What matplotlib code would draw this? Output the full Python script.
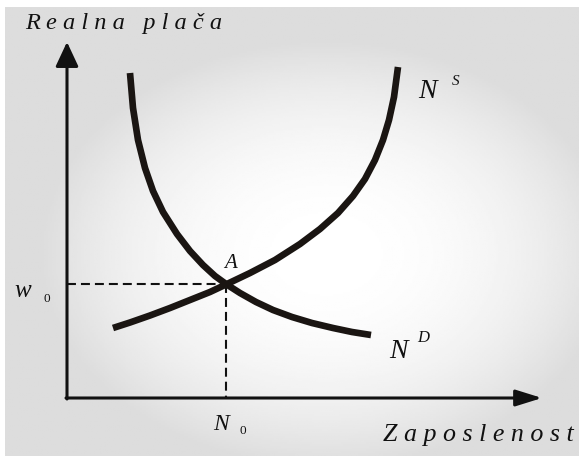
import numpy as np
import matplotlib.pyplot as plt

# curve points (pixel coords, y grows downward)
demand_x = [130, 133, 138, 145, 153, 163, 177, 190, 203, 215, 226, 240, 256, 273, 292, 312, 333, 352, 371]
demand_y = [73, 108, 140, 168, 191, 212, 234, 251, 265, 276, 284, 293, 302, 310, 317, 323, 328, 332, 335]
supply_x = [113, 130, 150, 170, 190, 210, 227, 250, 275, 300, 320, 338, 353, 365, 375, 383, 389, 394, 398]
supply_y = [328, 322.5, 315.5, 308, 300, 292, 284, 273, 260, 244, 229, 213, 196, 179, 160, 140, 120, 97, 67]
# equilibrium point A
eq_x, eq_y = 226, 284
# axes origin and arrow tips
origin = (67, 398)
x_tip, y_tip = 542, 42

fig = plt.figure(figsize=(5.82, 4.59), dpi=100)
ax = fig.add_axes([0, 0, 1, 1])
ax.set_xlim(0, 582)
ax.set_ylim(459, 0)
ax.axis('off')

# radial grey background, lighter in the middle
gx, gy = np.meshgrid(np.linspace(-1, 1, 300), np.linspace(-1, 1, 240))
r = np.sqrt(((gx - 0.12) / 1.05) ** 2 + ((gy - 0.1) / 1.0) ** 2)
shade = 1.0 - 0.135 * np.clip(r * 1.05, 0, 1) ** 2.2
ax.imshow(shade, cmap='gray', vmin=0, vmax=1, extent=(5, 579, 456, 7), aspect='auto', zorder=0)

# axes with arrows
ax.annotate('', xy=(x_tip, origin[1]), xytext=(origin[0] - 1, origin[1]),
            arrowprops=dict(arrowstyle='-|>,head_length=1.6,head_width=0.5', lw=2.2, color='#111111',
                            shrinkA=0, shrinkB=0))
ax.annotate('', xy=(origin[0], y_tip), xytext=(origin[0], origin[1] + 1),
            arrowprops=dict(arrowstyle='-|>,head_length=1.5,head_width=0.7', lw=2.2, color='#111111',
                            shrinkA=0, shrinkB=0))

# dashed guides to A
ax.plot([origin[0], eq_x], [eq_y, eq_y], '--', color='#111111', lw=1.5, dashes=(4.3, 2.4))
ax.plot([eq_x, eq_x], [eq_y, origin[1]], '--', color='#111111', lw=1.5, dashes=(4.3, 2.4))

# supply and demand curves
ax.plot(demand_x, demand_y, color='#1a1512', lw=4.8, solid_capstyle='butt', solid_joinstyle='round')
ax.plot(supply_x, supply_y, color='#1a1512', lw=4.8, solid_capstyle='butt', solid_joinstyle='round')

font = dict(family='Liberation Serif', style='italic', color='#111111')
sub = dict(family='Liberation Serif', color='#111111')
ax.text(25, 29, 'R e a l n a   p l a č a', fontsize=17.6, **font)
ax.text(383, 441, 'Z a p o s l e n o s t', fontsize=18.7, **font)
ax.text(14, 297, 'w', fontsize=18, **font)
ax.text(43, 302, '0', fontsize=9.5, **sub)
ax.text(213, 430, 'N', fontsize=17, **font)
ax.text(239, 434, '0', fontsize=9.5, **sub)
ax.text(224, 268, 'A', fontsize=15, **font)
ax.text(418, 98, 'N', fontsize=20, **font)
ax.text(452, 85, 'S', fontsize=11, **font)
ax.text(389, 358, 'N', fontsize=20, **font)
ax.text(417, 342, 'D', fontsize=12, **font)

fig.savefig('out.png', dpi=100, facecolor='white')
